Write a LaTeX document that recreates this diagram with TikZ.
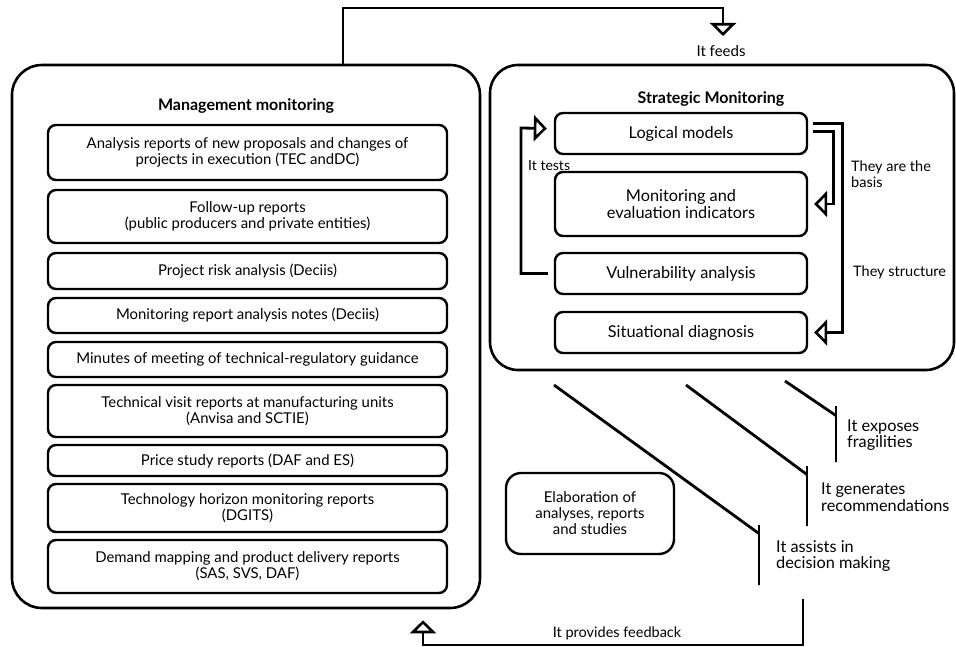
\documentclass[tikz,border=0pt]{standalone}
\usepackage{fontspec}
\setmainfont{Lato}
\usetikzlibrary{arrows.meta}

\begin{document}
\begin{tikzpicture}[x=1pt,y=-1pt,
  frame/.style={draw,rounded corners=30pt,line width=2.6pt},
  item/.style={draw,rounded corners=8pt,line width=2.4pt,align=center,inner sep=0pt,
    font=\fontsize{14.9}{16}\selectfont},
  bigitem/.style={item,font=\fontsize{16.3}{17}\selectfont},
  head/.style={font=\fontsize{16}{18}\selectfont\bfseries},
  lbl/.style={align=left,inner sep=0pt,font=\fontsize{14.5}{16}\selectfont},
  biglbl/.style={lbl,font=\fontsize{16.3}{16.5}\selectfont},
  conn/.style={line width=2.8pt},
  opentip/.style={-{Triangle[open,width=26pt,length=13pt,line width=2.6pt]}},
  tick/.style={draw,line width=2.8pt,minimum width=0pt,inner sep=0pt}]
\useasboundingbox (0,0) rectangle (956,647);

% management side
\draw (246,336.5) node[frame,minimum width=468pt,minimum height=543pt](mgmt) {};
\draw (246,106) node[head](mtitle) {Management monitoring};
\draw (247.5,152.5) node[item,minimum width=399pt,minimum height=55pt](anl) {Analysis reports of new proposals and changes of\\projects in execution (TEC andDC)};
\draw (247.5,216.5) node[item,minimum width=399pt,minimum height=53pt](foll) {Follow-up reports\\(public producers and private entities)};
\draw (247.5,271) node[item,minimum width=399pt,minimum height=36pt](risk) {Project risk analysis (Deciis)};
\draw (247.5,315.5) node[item,minimum width=399pt,minimum height=35pt](notes) {Monitoring report analysis notes (Deciis)};
\draw (247.5,359.5) node[item,minimum width=399pt,minimum height=35pt](minutes) {Minutes of meeting of technical-regulatory guidance};
\draw (247.5,411) node[item,minimum width=399pt,minimum height=52pt](visit) {Technical visit reports at manufacturing units\\(Anvisa and SCTIE)};
\draw (247.5,460.5) node[item,minimum width=399pt,minimum height=31pt](price) {Price study reports (DAF and ES)};
\draw (247.5,508) node[item,minimum width=399pt,minimum height=48pt](horizon) {Technology horizon monitoring reports\\(DGITS)};
\draw (247.5,566.5) node[item,minimum width=399pt,minimum height=53pt](demand) {Demand mapping and product delivery reports\\(SAS, SVS, DAF)};

% strategic side
\draw (722,217.5) node[frame,rounded corners=28pt,minimum width=464pt,minimum height=305pt](strat) {};
\draw (711,99) node[head](stitle) {Strategic Monitoring};
\draw (681,133.5) node[bigitem,minimum width=252pt,minimum height=41pt](logic) {Logical models};
\draw (681,204) node[bigitem,minimum width=252pt,minimum height=64pt](indic) {Monitoring and\\evaluation indicators};
\draw (681,273.5) node[bigitem,minimum width=252pt,minimum height=41pt](vuln) {Vulnerability analysis};
\draw (681,332.5) node[bigitem,minimum width=252pt,minimum height=41pt](diag) {Situational diagnosis};

\draw (590,513.5) node[item,rounded corners=15pt,minimum width=168pt,minimum height=81pt](elab) {Elaboration of\\analyses, reports\\and studies};

% labels
\draw (721,51) node[lbl,font=\fontsize{15}{16}\selectfont](feeds) {It feeds};
\draw (528,166) node[lbl,anchor=west,font=\fontsize{14}{16}\selectfont](tests) {It tests};
\draw (851,174) node[lbl,anchor=west](basis) {They are the\\basis};
\draw (853,272) node[lbl,anchor=west](struct) {They structure};
\draw (847,435) node[biglbl,anchor=west](expose) {It exposes\\fragilities};
\draw (821,497) node[biglbl,anchor=west](recom) {It generates\\recommendations};
\draw (776,556) node[biglbl,anchor=west](assist) {It assists in\\decision making};
\draw (617,633) node[lbl](feedback) {It provides feedback};

% ticks
\draw (836,434) node[tick,minimum height=56pt](t1) {};
\draw (807,496) node[tick,minimum height=60pt](t2) {};
\draw (759,555) node[tick,minimum height=60pt](t3) {};

% corners
\coordinate (ctop) at (723,8);
\coordinate (ctest) at (521,128);
\coordinate (d1) at (785,381);
\coordinate (d2) at (686,385);
\coordinate (d3) at (554,385);
\coordinate (cfb) at (803,599);
\coordinate (cbot) at (803,645);

% connectors
\draw[conn,opentip] ([xshift=97pt]mgmt.north) |- (ctop) -- (723,36);
\draw[conn,opentip] ([xshift=-6pt]vuln.west) -| (ctest) -- ([xshift=-7pt,yshift=5pt]logic.west);
\draw[conn,opentip] ([xshift=5pt,yshift=2pt]logic.east) -| ([xshift=25pt]indic.east) -- ([xshift=6pt]indic.east);
\draw[conn,opentip] ([xshift=5pt,yshift=10pt]logic.east) -| ([xshift=34pt]diag.east) -- ([xshift=6pt]diag.east);
\draw[conn] (d1) -- ([yshift=-11pt]t1.north);
\draw[conn] (d2) -- ([yshift=-10pt]t2.north);
\draw[conn] (d3) -- ([yshift=-10pt]t3.north);
\draw[conn,opentip] (cfb) -- (cbot) -| ([xshift=177pt,yshift=-11pt]mgmt.south);
\end{tikzpicture}
\end{document}
